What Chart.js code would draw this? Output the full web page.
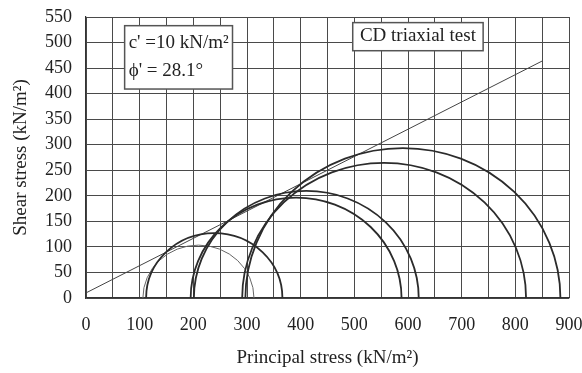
<!DOCTYPE html>
<html>
<head>
<meta charset="utf-8">
<script src="https://cdn.jsdelivr.net/npm/chart.js@4"></script>
<style>
  html, body { margin: 0; padding: 0; background: #fff; }
  canvas { display: block; }
</style>
</head>
<body>
<canvas id="mohrChart" width="582" height="373"></canvas>
<script>
// Principal stresses at failure for each CD test (kN/m2)
const sigma3 = [106, 112, 195, 201, 291, 297];
const sigma1 = [313, 366, 588, 620, 820, 884];

// Failure envelope
const cohesion = 10;          // c' (kN/m2)
const frictionAngle = 28.1;   // phi' (degrees)
const envelopeEnd = 851;      // sigma where the envelope line stops

// Axis labels
const xTickLabels = [0, 100, 200, 300, 400, 500, 600, 700, 800, 900];
const yTickLabels = [0, 50, 100, 150, 200, 250, 300, 350, 400, 450, 500, 550];

const serif = '"Liberation Serif", "Times New Roman", serif';
const ink = '#222';

const envelope = [
  { x: 0, y: cohesion },
  { x: envelopeEnd, y: cohesion + envelopeEnd * Math.tan(frictionAngle * Math.PI / 180) }
];

// Draws the upper half of each Mohr circle through the chart scales
const mohrCircles = {
  id: 'mohrCircles',
  afterDatasetsDraw(chart) {
    const { ctx, chartArea, scales: { x, y } } = chart;
    ctx.save();
    ctx.beginPath();
    ctx.rect(chartArea.left, chartArea.top, chartArea.width, chartArea.height);
    ctx.clip();
    sigma3.forEach((s3, i) => {
      const s1 = sigma1[i];
      const centre = (s1 + s3) / 2;
      const radius = (s1 - s3) / 2;
      const cx = x.getPixelForValue(centre);
      const cy = y.getPixelForValue(0);
      const rx = x.getPixelForValue(centre + radius) - cx;
      const ry = cy - y.getPixelForValue(radius);
      ctx.beginPath();
      ctx.ellipse(cx, cy, rx, ry, 0, Math.PI, 2 * Math.PI);
      ctx.strokeStyle = i === 0 ? '#666' : '#2b2b2b';
      ctx.lineWidth = i === 0 ? 1 : 1.8;
      ctx.stroke();
    });
    ctx.restore();
  }
};

// Text boxes placed in data coordinates
function textBox(chart, s0, t0, s1, t1) {
  const { ctx, scales: { x, y } } = chart;
  const left = x.getPixelForValue(s0), right = x.getPixelForValue(s1);
  const top = y.getPixelForValue(t0), bottom = y.getPixelForValue(t1);
  ctx.fillStyle = '#fff';
  ctx.fillRect(left, top, right - left, bottom - top);
  ctx.strokeStyle = '#555';
  ctx.lineWidth = 1.5;
  ctx.strokeRect(left, top, right - left, bottom - top);
  return { left, top, right, bottom };
}

const annotations = {
  id: 'annotations',
  afterDraw(chart) {
    const { ctx } = chart;
    ctx.save();
    ctx.font = '19px ' + serif;
    ctx.textBaseline = 'alphabetic';

    const b1 = textBox(chart, 72, 533, 273, 409);
    ctx.fillStyle = ink;
    ctx.textAlign = 'left';
    ctx.fillText("c' =10 kN/m\u00B2", b1.left + 4, b1.top + 22);
    ctx.fillText("\u03D5' = 28.1\u00B0", b1.left + 4, b1.top + 50);

    const b2 = textBox(chart, 497, 539, 740, 484);
    ctx.fillStyle = ink;
    ctx.textAlign = 'center';
    ctx.fillText('CD triaxial test', (b2.left + b2.right) / 2, b2.top + 18);
    ctx.restore();
  }
};

new Chart(document.getElementById('mohrChart'), {
  type: 'scatter',
  data: {
    datasets: [{
      label: 'Failure envelope',
      data: envelope,
      showLine: true,
      borderColor: '#444',
      borderWidth: 1,
      pointRadius: 0,
      fill: false
    }]
  },
  options: {
    responsive: false,
    animation: false,
    devicePixelRatio: 1,
    layout: { padding: { left: 0, right: 13, top: 17, bottom: 0 } },
    plugins: {
      legend: { display: false },
      tooltip: { enabled: false }
    },
    scales: {
      x: {
        type: 'linear',
        min: 0,
        max: 900,
        afterFit(scale) {
          scale.height = 75;
          scale.paddingLeft = 0;
          scale.paddingRight = 0;
        },
        ticks: {
          stepSize: 50,
          autoSkip: false,
          maxRotation: 0,
          padding: 16,
          color: ink,
          font: { family: serif, size: 18 },
          callback: (v) => xTickLabels.includes(v) ? String(v) : ''
        },
        grid: { color: '#4a4a4a', lineWidth: 1, drawTicks: false },
        border: { color: '#333', width: 1.2 },
        title: {
          display: true,
          text: 'Principal stress (kN/m\u00B2)',
          color: ink,
          font: { family: serif, size: 19 },
          padding: { top: 0, bottom: 4 }
        }
      },
      y: {
        type: 'linear',
        min: 0,
        max: 550,
        afterFit(scale) {
          scale.width = 86;
          scale.paddingTop = 0;
          scale.paddingBottom = 0;
        },
        afterBuildTicks(scale) {
          scale.ticks = yTickLabels.map(v => ({ value: v }));
        },
        ticks: {
          padding: 14,
          color: ink,
          font: { family: serif, size: 18 }
        },
        grid: { color: '#4a4a4a', lineWidth: 1, drawTicks: false },
        border: { color: '#333', width: 1.2 },
        title: {
          display: true,
          text: 'Shear stress (kN/m\u00B2)',
          color: ink,
          font: { family: serif, size: 19 },
          padding: { top: 10, bottom: 0 }
        }
      }
    }
  },
  plugins: [mohrCircles, annotations]
});
</script>
</body>
</html>
